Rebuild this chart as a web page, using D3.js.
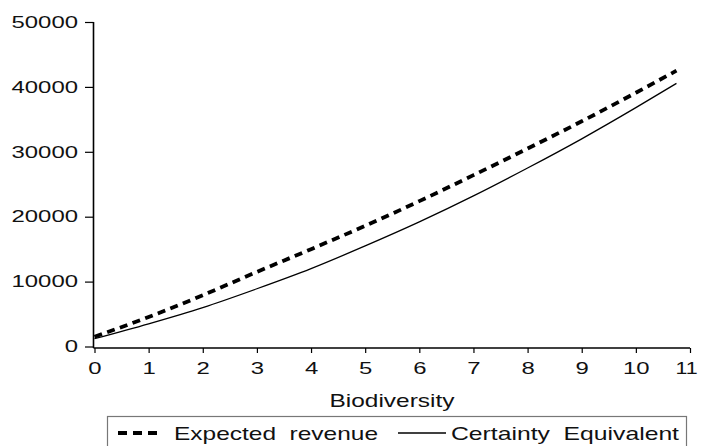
<!DOCTYPE html>
<html><head><meta charset="utf-8">
<script src="https://cdn.jsdelivr.net/npm/d3@7"></script>
<style>
body{margin:0;background:#fff;}
svg{display:block;font-family:"Liberation Sans",Arial,sans-serif;}
</style></head>
<body>
<svg id="c" width="701" height="446"></svg>
<script>
// Data
const biodiversity = [0, 1, 2, 3, 4, 5, 6, 7, 8, 9, 10, 10.75];
const expectedRevenue = [1500, 4550, 7900, 11500, 15000, 18600, 22400, 26400, 30500, 34700, 39100, 42500];
const certaintyEquivalent = [1200, 3500, 6000, 8900, 12000, 15500, 19200, 23200, 27500, 32000, 36800, 40550];
const xTicks = [0, 1, 2, 3, 4, 5, 6, 7, 8, 9, 10, 11];
const yTicks = [0, 10000, 20000, 30000, 40000, 50000];
const seriesNames = ["Expected  revenue", "Certainty  Equivalent"];
const xTitle = "Biodiversity";

const svg = d3.select("#c");
const x = d3.scaleLinear().domain([0, 11]).range([94.5, 690]);
const y = d3.scaleLinear().domain([0, 50000]).range([346.5, 22]);
const axisY = 348;
const axisX = 93.5;
const tickSX = 1.45;
const tickFS = 16.5;

// Y axis
const gy = svg.append("g").attr("transform", `translate(${axisX},0)`)
  .call(d3.axisLeft(y).tickValues(yTicks).tickFormat(d3.format("d")).tickSize(8.5).tickPadding(7).tickSizeOuter(0));
gy.select(".domain").remove();
gy.selectAll(".tick line").attr("stroke", "#000").attr("stroke-width", 1.2);
gy.selectAll(".tick text").attr("font-size", tickFS).attr("fill", "#111").attr("font-family", "Liberation Sans, Arial")
  .attr("transform", function(){ const tx = +d3.select(this).attr("x"); return `translate(${tx},0) scale(${tickSX},1) translate(${-tx},0)`; });
svg.append("line").attr("x1", axisX).attr("x2", axisX).attr("y1", y(50000)).attr("y2", axisY)
  .attr("stroke", "#000").attr("stroke-width", 1.6);

// X axis
const gx = svg.append("g").attr("transform", `translate(0,${axisY})`)
  .call(d3.axisBottom(x).tickValues(xTicks).tickFormat(d3.format("d")).tickSize(5).tickPadding(9).tickSizeOuter(0));
gx.select(".domain").remove();
gx.selectAll(".tick line").attr("stroke", "#000").attr("stroke-width", 1.2);
gx.selectAll(".tick text").attr("font-size", tickFS).attr("fill", "#111").attr("font-family", "Liberation Sans, Arial")
  .attr("transform", d => d === 11 ? `translate(-4,0) scale(1.3,1)` : `scale(${tickSX},1)`);
svg.append("line").attr("x1", axisX).attr("x2", x(11)).attr("y1", axisY).attr("y2", axisY)
  .attr("stroke", "#000").attr("stroke-width", 1.6);

// X title
svg.append("text").attr("x", 392).attr("y", 406.5).attr("text-anchor", "middle")
  .attr("font-size", 19).attr("fill", "#111")
  .attr("textLength", 125).attr("lengthAdjust", "spacingAndGlyphs").text(xTitle);

// Lines
const line = (vals) => d3.line().x((d, i) => x(biodiversity[i])).y(d => y(d)).curve(d3.curveMonotoneX)(vals);
svg.append("path").attr("d", line(certaintyEquivalent)).attr("fill", "none")
  .attr("stroke", "#000").attr("stroke-width", 1.3);
svg.append("path").attr("d", line(expectedRevenue)).attr("fill", "none")
  .attr("stroke", "#000").attr("stroke-width", 3.8).attr("stroke-dasharray", "8,5.5");

// Legend
const lg = svg.append("g");
lg.append("rect").attr("x", 107.5).attr("y", 416.5).attr("width", 579).attr("height", 40)
  .attr("fill", "#fff").attr("stroke", "#777").attr("stroke-width", 1.2);
lg.append("line").attr("x1", 118).attr("x2", 159).attr("y1", 433).attr("y2", 433)
  .attr("stroke", "#000").attr("stroke-width", 3.8).attr("stroke-dasharray", "9,6");
lg.append("text").attr("x", 174).attr("y", 440).attr("font-size", 19).attr("fill", "#111")
  .attr("textLength", 204).attr("lengthAdjust", "spacingAndGlyphs").style("white-space", "pre").text(seriesNames[0]);
lg.append("line").attr("x1", 398).attr("x2", 446).attr("y1", 433).attr("y2", 433)
  .attr("stroke", "#000").attr("stroke-width", 1.3);
lg.append("text").attr("x", 451).attr("y", 440).attr("font-size", 19).attr("fill", "#111")
  .attr("textLength", 228).attr("lengthAdjust", "spacingAndGlyphs").style("white-space", "pre").text(seriesNames[1]);
</script>
</body></html>
